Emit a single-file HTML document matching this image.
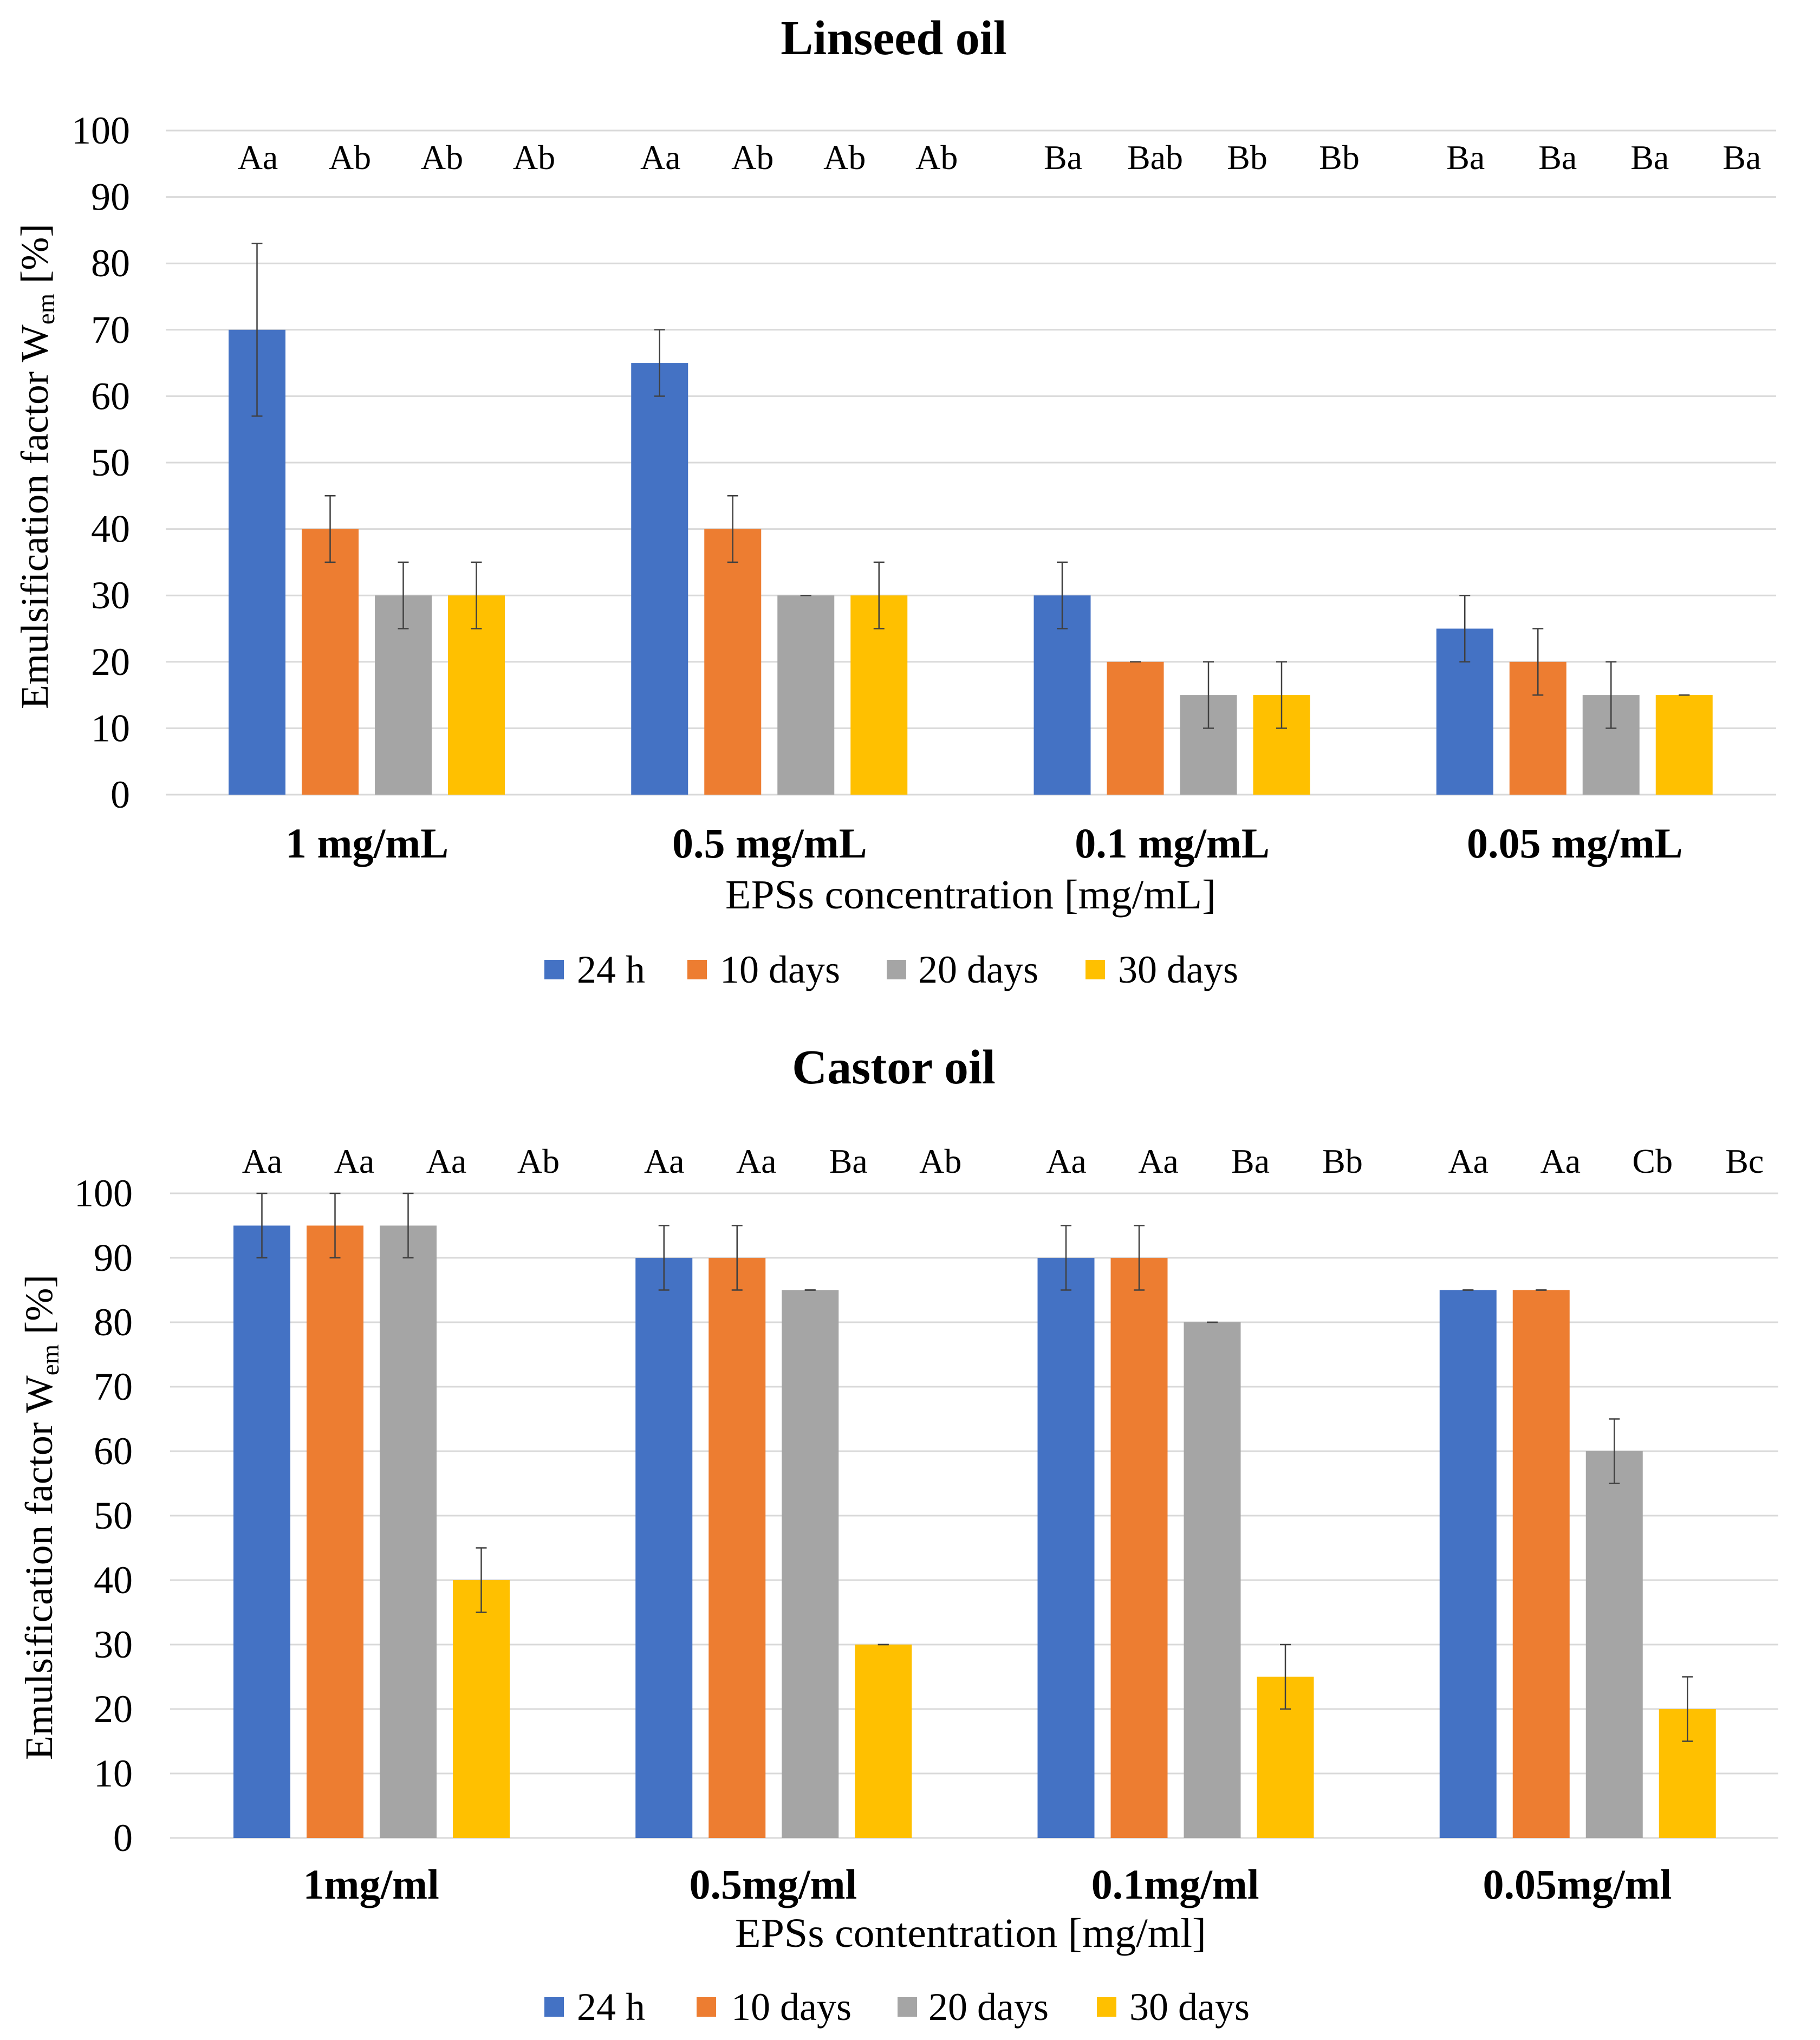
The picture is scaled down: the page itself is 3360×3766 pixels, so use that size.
<!DOCTYPE html>
<html><head><meta charset="utf-8"><style>
html,body{margin:0;padding:0;background:#fff;}
svg{display:block;}
text{font-family:"Liberation Serif",serif;fill:#000;}
</style></head><body>
<svg id="fig" width="3360" height="3766" viewBox="0 0 3360 3766" xmlns="http://www.w3.org/2000/svg"></svg>
<script>
const seriesNames = ["24 h","10 days","20 days","30 days"];
const colors = ["#4472C4","#ED7D31","#A5A5A5","#FFC000"];
const yTicks = [0,10,20,30,40,50,60,70,80,90,100];

const linCategories = ["1 mg/mL","0.5 mg/mL","0.1 mg/mL","0.05 mg/mL"];
const lin24h = [70,65,30,25];
const lin10d = [40,40,20,20];
const lin20d = [30,30,15,15];
const lin30d = [30,30,15,15];
const linErr24h = [13,5,5,5];
const linErr10d = [5,5,0,5];
const linErr20d = [5,0,5,5];
const linErr30d = [5,5,5,0];
const linLetters = [["Aa","Ab","Ab","Ab"],["Aa","Ab","Ab","Ab"],["Ba","Bab","Bb","Bb"],["Ba","Ba","Ba","Ba"]];

const casCategories = ["1mg/ml","0.5mg/ml","0.1mg/ml","0.05mg/ml"];
const cas24h = [95,90,90,85];
const cas10d = [95,90,90,85];
const cas20d = [95,85,80,60];
const cas30d = [40,30,25,20];
const casErr24h = [5,5,5,0];
const casErr10d = [5,5,5,0];
const casErr20d = [5,0,0,5];
const casErr30d = [5,0,5,5];
const casLetters = [["Aa","Aa","Aa","Ab"],["Aa","Aa","Ba","Ab"],["Aa","Aa","Ba","Bb"],["Aa","Aa","Cb","Bc"]];

const NS="http://www.w3.org/2000/svg";
const svg=document.getElementById('fig');
function mk(tag,attrs,parent,txt){const e=document.createElementNS(NS,tag);for(const k in attrs)e.setAttribute(k,attrs[k]);if(txt!==undefined)e.textContent=txt;(parent||svg).appendChild(e);return e;}

function chart(cfg){
  const g=mk('g',{});
  
  
  const x0=cfg.x0,x1=cfg.x1,yTop=cfg.yTop,yBot=cfg.yBot;
  const yS=v=>yBot-(v/100)*(yBot-yTop);
  const gw=(x1-x0)/cfg.cats.length;
  const t=mk('text',{x:1650,y:cfg.titleY,'font-size':90,'font-weight':'bold','text-anchor':'middle'},g,cfg.title);
  
  
  yTicks.forEach(v=>{
    const l=mk('line',{x1:x0,x2:x1,y1:yS(v),y2:yS(v),stroke:'#D9D9D9','stroke-width':3},g);
    
    
    const tl=mk('text',{x:cfg.tickX,y:yS(v)+24,'font-size':72,'text-anchor':'end'},g,String(v));
    
    
  });
  const yt=mk('text',{transform:`translate(${cfg.ytX},${cfg.ytY}) rotate(-90)`,'font-size':72,'text-anchor':'middle',textLength:896,lengthAdjust:'spacingAndGlyphs'},g);
  
  
  mk('tspan',{},yt,'Emulsification factor W');
  mk('tspan',{'font-size':46,dy:12},yt,'em');
  mk('tspan',{dy:-12},yt,' [%]');
  cfg.cats.forEach((c,i)=>{
    const gx=x0+i*gw;
    cfg.vals.forEach((arr,s)=>{
      const bx=gx+cfg.off+s*135, w=105;
      const r=mk('rect',{x:bx,y:yS(arr[i]),width:w,height:yS(0)-yS(arr[i]),fill:colors[s]},g);
      
      
      const e=cfg.errs[s][i], cx=bx+w/2;
      const eg=mk('g',{stroke:'#404040','stroke-width':2.5},g);
      
      
      mk('line',{x1:cx,x2:cx,y1:yS(arr[i]+e),y2:yS(arr[i]-e)},eg);
      mk('line',{x1:cx-10,x2:cx+10,y1:yS(arr[i]+e),y2:yS(arr[i]+e)},eg);
      mk('line',{x1:cx-10,x2:cx+10,y1:yS(arr[i]-e),y2:yS(arr[i]-e)},eg);
      const lt=mk('text',{x:gx+170+s*170,y:cfg.letY+17,'font-size':64,'text-anchor':'middle'},g,cfg.letters[i][s]);
      
      
    });
    const cl=mk('text',{x:gx+gw/2,y:cfg.catY+26,'font-size':78,'font-weight':'bold','text-anchor':'middle'},g,c);
    
    
  });
  const xt=mk('text',{x:1792,y:cfg.xtY+24,'font-size':76,'text-anchor':'middle',textLength:cfg.xtLen,lengthAdjust:'spacingAndGlyphs'},g,cfg.xTitle);
  
  
  seriesNames.forEach((n,s)=>{
    const lg=mk('g',{},g);
    
    
    mk('rect',{x:cfg.legSq[s],y:cfg.legY-18,width:36,height:36,fill:colors[s]},lg);
    mk('text',{x:cfg.legTx[s],y:cfg.legY+24,'font-size':72},lg,n);
  });
}

chart({name:'linseed-oil-chart',title:'Linseed oil',titleY:100,x0:306,x1:3279,yTop:241,yBot:1467,tickX:240,ytX:88,ytY:861,
  cats:linCategories,vals:[lin24h,lin10d,lin20d,lin30d],errs:[linErr24h,linErr10d,linErr20d,linErr30d],letters:linLetters,
  off:116,letY:295,catY:1557,xtY:1653,xtLen:906,xTitle:'EPSs concentration [mg/mL]',legY:1790,
  legSq:[1005,1269,1637,2004],legTx:[1065,1329,1695,2064]});
chart({name:'castor-oil-chart',title:'Castor oil',titleY:2000,x0:314,x1:3283,yTop:2203,yBot:3393,tickX:245,ytX:96,ytY:2801,
  cats:casCategories,vals:[cas24h,cas10d,cas20d,cas30d],errs:[casErr24h,casErr10d,casErr20d,casErr30d],letters:casLetters,
  off:117,letY:2148,catY:3479,xtY:3570,xtLen:870,xTitle:'EPSs contentration [mg/ml]',legY:3705,
  legSq:[1005,1286,1657,2025],legTx:[1065,1350,1714,2085]});
</script>
</body></html>
